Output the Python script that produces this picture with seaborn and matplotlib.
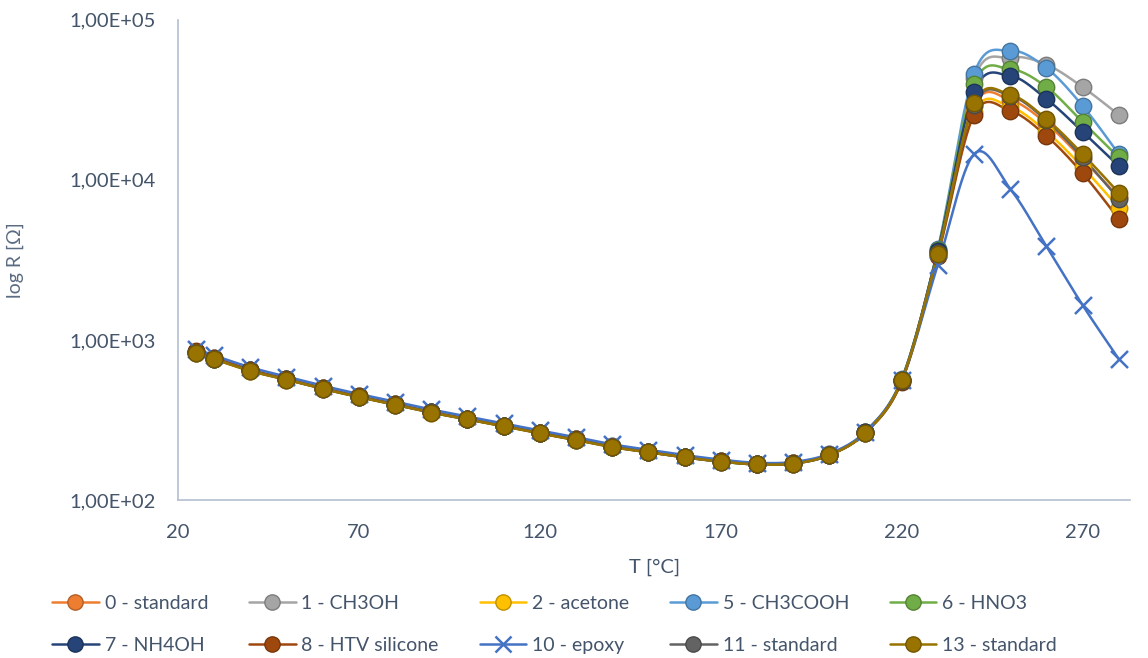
import numpy as np
import pandas as pd
import matplotlib
matplotlib.use("Agg")
import matplotlib.pyplot as plt
import matplotlib.colors as mcolors
from matplotlib.lines import Line2D
from matplotlib.ticker import FixedLocator, FuncFormatter, NullLocator
import seaborn as sns

# temperatures [°C]
temps = [25, 30, 40, 50, 60, 70, 80, 90, 100, 110, 120, 130, 140, 150,
         160, 170, 180, 190, 200, 210, 220, 230, 240, 250, 260, 270, 280]

# resistance [Ohm] per sample
std0 = [845, 770, 650, 570, 500, 445, 398, 356, 322, 292, 264, 240, 217, 201,
        187, 176, 169, 171, 193, 266, 565, 3500, 29000, 31500, 22500, 13500, 7800]
ch3oh = [835, 765, 645, 568, 498, 443, 396, 354, 321, 291, 263, 239, 216, 200,
         186, 175, 168, 170, 192, 265, 560, 3550, 43000, 58000, 52500, 38000, 25500]
acetone = [825, 758, 640, 565, 495, 440, 394, 352, 319, 289, 261, 237, 215, 199,
           185, 174, 167, 169, 191, 263, 552, 3400, 26500, 28500, 20000, 12000, 6700]
ch3cooh = [840, 768, 648, 570, 500, 444, 397, 355, 322, 292, 264, 240, 217, 201,
           187, 176, 169, 171, 193, 267, 570, 3700, 46000, 64000, 50000, 29000, 14500]
hno3 = [838, 766, 646, 569, 499, 443, 396, 354, 321, 291, 263, 239, 216, 200,
        186, 175, 168, 170, 192, 266, 565, 3650, 39500, 49000, 38000, 23000, 13800]
nh4oh = [836, 765, 645, 567, 497, 442, 395, 353, 320, 290, 262, 238, 215, 199,
         185, 174, 167, 169, 191, 265, 562, 3600, 35500, 44500, 32000, 20000, 12200]
htv = [850, 775, 652, 572, 501, 445, 398, 355, 321, 291, 263, 239, 216, 200,
       186, 175, 168, 170, 192, 264, 550, 3350, 25500, 27000, 18800, 11000, 5700]
epoxy = [880, 800, 675, 590, 518, 460, 412, 368, 333, 301, 272, 247, 223, 206,
         191, 179, 171, 173, 195, 268, 560, 2950, 14500, 8800, 3850, 1650, 760]
std11 = [828, 760, 642, 566, 496, 441, 395, 353, 320, 290, 262, 238, 215, 199,
         185, 174, 167, 169, 191, 264, 558, 3500, 29500, 33500, 23500, 13800, 7600]
std13 = [826, 758, 640, 565, 495, 440, 394, 352, 319, 289, 261, 237, 214, 199,
         185, 174, 167, 169, 191, 264, 560, 3450, 30000, 34000, 24000, 14500, 8300]

labels = ["0 - standard", "1 - CH3OH", "2 - acetone", "5 - CH3COOH", "6 - HNO3",
          "7 - NH4OH", "8 - HTV silicone", "10 - epoxy", "11 - standard", "13 - standard"]
series = [std0, ch3oh, acetone, ch3cooh, hno3, nh4oh, htv, epoxy, std11, std13]
colors = ["#ED7D31", "#A5A5A5", "#FFC000", "#5B9BD5", "#70AD47",
          "#264478", "#9E480E", "#4472C4", "#636363", "#997300"]
markers = ["o"] * 7 + ["x"] + ["o"] * 2

TEXT = "#44546A"


def smooth(x, y, n=16):
    # Excel-like smoothed line (bezier through the points, in log space)
    px = np.asarray(x, float)
    py = np.log10(np.asarray(y, float))
    P = np.column_stack([px, py])
    out = [P[0]]
    t = np.linspace(0, 1, n)[1:, None]
    for i in range(len(P) - 1):
        p0 = P[i - 1] if i > 0 else P[i]
        p3 = P[i + 2] if i + 2 < len(P) else P[i + 1]
        p1, p2 = P[i], P[i + 1]
        c1 = p1 + (p2 - p0) / 6
        c2 = p2 - (p3 - p1) / 6
        seg = ((1 - t) ** 3) * p1 + 3 * ((1 - t) ** 2) * t * c1 + 3 * (1 - t) * t ** 2 * c2 + t ** 3 * p2
        out.extend(seg)
    out = np.array(out)
    return pd.DataFrame({"T": out[:, 0], "R": 10 ** out[:, 1]})


sns.set_theme(style="white")
plt.rcParams["font.family"] = ["Lato", "DejaVu Sans"]

fig = plt.figure(figsize=(11.48, 6.58), dpi=100)
ax = fig.add_axes([0.155, 0.240, 0.829, 0.730])
ax.set_yscale("log")

handles = []
for lab, ys, c, m in zip(labels, series, colors, markers):
    edge = tuple(v * 0.75 for v in mcolors.to_rgb(c))
    curve = smooth(temps, ys)
    sns.lineplot(data=curve, x="T", y="R", ax=ax, color=c, lw=1.8,
                 sort=False, estimator=None, legend=False)
    pts = pd.DataFrame({"T": temps, "R": ys})
    if m == "x":
        sns.scatterplot(data=pts, x="T", y="R", ax=ax, marker="x", color=c,
                        s=150, linewidth=1.8, legend=False, zorder=3)
    else:
        sns.scatterplot(data=pts, x="T", y="R", ax=ax, marker="o", color=c,
                        s=140, edgecolor=edge, linewidth=1.0, legend=False, zorder=3)
    handles.append(Line2D([0], [0], color=c, lw=1.8, marker=m, markersize=11,
                          markerfacecolor=c, markeredgecolor=edge if m == "o" else c,
                          markeredgewidth=1.0 if m == "o" else 1.8))

ax.set_xlim(20, 283)
ax.set_ylim(100, 100000)
ax.xaxis.set_major_locator(FixedLocator([20, 70, 120, 170, 220, 270]))
ax.yaxis.set_major_locator(FixedLocator([1e2, 1e3, 1e4, 1e5]))
ax.yaxis.set_minor_locator(NullLocator())
ax.yaxis.set_major_formatter(FuncFormatter(lambda v, _: f"{v:.2E}".replace(".", ",")))
ax.tick_params(axis="both", length=0, labelsize=14.5, colors=TEXT)
ax.tick_params(axis="y", pad=16)
ax.tick_params(axis="x", pad=17)
ax.set_xlabel("")
ax.set_ylabel("")
for s in ["top", "right"]:
    ax.spines[s].set_visible(False)
for s in ["left", "bottom"]:
    ax.spines[s].set_color("#B4BFD0")
    ax.spines[s].set_linewidth(1.2)

fig.text(15 / 1148, 1 - 260 / 658, "log R [Ω]", rotation=90, ha="center", va="center",
         fontsize=14, color="#5B6B82")
fig.text(655 / 1148, 1 - 567 / 658, "T [°C]", ha="center", va="center",
         fontsize=14.5, color=TEXT)

# legend filled row by row (matplotlib fills columns first)
order = [0, 5, 1, 6, 2, 7, 3, 8, 4, 9]
fig.legend([handles[i] for i in order], [labels[i] for i in order],
           ncol=5, loc="center", bbox_to_anchor=(0.483, 0.051), frameon=False,
           fontsize=14, labelcolor=TEXT, handlelength=2.4, handletextpad=0.3,
           columnspacing=2.1, labelspacing=1.25)

fig.savefig("out.png", dpi=100)
